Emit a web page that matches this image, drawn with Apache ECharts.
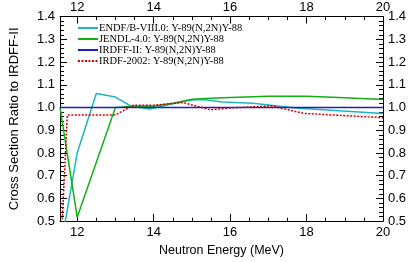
<!DOCTYPE html>
<html>
<head>
<meta charset="utf-8">
<script src="https://cdn.jsdelivr.net/npm/echarts@6/dist/echarts.min.js"></script>
<style>html,body{margin:0;padding:0;background:#fff}#c{width:415px;height:262px}</style>
</head>
<body>
<div id="c"></div>
<script>
// ---- data ----
var seriesNames = ['ENDF/B-VIII.0: Y-89(N,2N)Y-88', 'JENDL-4.0: Y-89(N,2N)Y-88', 'IRDFF-II: Y-89(N,2N)Y-88', 'IRDF-2002: Y-89(N,2N)Y-88'];
var endfX = [11.55, 12.0, 12.5, 13.0, 13.4, 13.9, 14.5, 15.0, 15.3, 15.8, 16.6, 17.7, 20.0];
var endfY = [0.364, 0.80, 1.062, 1.046, 1.007, 0.993, 1.016, 1.033, 1.035, 1.024, 1.019, 0.998, 0.974];
var jendlX = [11.55, 11.6, 12.0, 13.0, 13.5, 14.0, 14.5, 15.0, 15.5, 16.0, 17.0, 18.0, 19.0, 20.0];
var jendlY = [1.0, 1.0, 0.517, 1.0, 1.005, 1.005, 1.019, 1.036, 1.041, 1.044, 1.049, 1.05, 1.043, 1.035];
var irdffX = [11.55, 20.0];
var irdffY = [1.0, 1.0];
var irdfX = [11.58, 11.74, 13.0, 13.47, 14.0, 14.76, 15.48, 16.0, 17.08, 17.93, 20.0];
var irdfY = [0.40, 0.967, 0.967, 1.01, 1.01, 1.022, 0.99, 0.998, 1.007, 0.974, 0.955];
var xMajorTicks = [12, 14, 16, 18, 20];
var xMinorTicks = [12.5, 13, 13.5, 14.5, 15, 15.5, 16.5, 17, 17.5, 18.5, 19, 19.5];
var xTitle = 'Neutron Energy (MeV)';
var yTitle = 'Cross Section Ratio to IRDFF-II';

function pairs(xs, ys) { return xs.map(function (x, i) { return [x, ys[i]]; }); }

var XMIN = 11.55, XMAX = 20, YMIN = 0.5, YMAX = 1.4;
var lblFont = {fontFamily: 'Liberation Sans', fontSize: 13, color: '#000'};
function xAx(pos, major, labels, extra) {
  var a = {
    type: 'value', position: pos, min: XMIN, max: XMAX,
    axisLine: {show: major, onZero: false, lineStyle: {color: '#000', width: 1}},
    axisTick: {show: true, inside: true, length: major ? 7 : 3.5, customValues: major ? xMajorTicks : xMinorTicks, lineStyle: {color: '#000', width: 1}},
    axisLabel: labels ? Object.assign({show: true, customValues: xMajorTicks, margin: pos === 'top' ? 3 : 5}, lblFont) : {show: false},
    splitLine: {show: false}
  };
  return Object.assign(a, extra || {});
}
function yAx(pos, extra) {
  var a = {
    type: 'value', position: pos, min: YMIN, max: YMAX, interval: 0.1,
    axisLine: {show: true, onZero: false, lineStyle: {color: '#000', width: 1}},
    axisTick: {show: true, inside: true, length: 7, lineStyle: {color: '#000', width: 1}},
    minorTick: {show: true, splitNumber: 5, length: 4, lineStyle: {color: '#000', width: 1}},
    axisLabel: Object.assign({show: true, margin: 5, formatter: function (v) { return v.toFixed(1); }}, lblFont),
    splitLine: {show: false}, minorSplitLine: {show: false}
  };
  return Object.assign(a, extra || {});
}

var colors = ['#1fb5c0', '#12b012', '#1c1cc8', '#cc0000'];
var chart = echarts.init(document.getElementById('c'), null, {renderer: 'canvas'});
chart.setOption({
  animation: false,
  backgroundColor: '#fff',
  grid: {left: 56, right: 32, top: 16.6, bottom: 37.5, containLabel: false},
  xAxis: [
    xAx('bottom', true, true, {name: xTitle, nameLocation: 'middle', nameGap: 21, nameTextStyle: {fontFamily: 'Liberation Sans', fontSize: 12.5, color: '#000'}}),
    xAx('bottom', false, false),
    xAx('top', true, true),
    xAx('top', false, false)
  ],
  yAxis: [
    yAx('left', {name: yTitle, nameLocation: 'middle', nameGap: 39, nameTextStyle: {fontFamily: 'Liberation Sans', fontSize: 13, color: '#000'}}),
    yAx('right')
  ],
  legend: {
    orient: 'vertical', left: 72, top: 17.5,
    itemWidth: 20, itemHeight: 10.7, itemGap: 0,
    itemStyle: {opacity: 0},
    textStyle: {fontFamily: 'Liberation Serif', fontSize: 10.5, color: '#000', lineHeight: 10.7, padding: [0, 0, 0, -4]},
    data: seriesNames
  },
  series: [
    {name: seriesNames[0], type: 'line', symbol: 'none', data: pairs(endfX, endfY), lineStyle: {color: colors[0], width: 1.5}, itemStyle: {color: colors[0]}, clip: true},
    {name: seriesNames[1], type: 'line', symbol: 'none', data: pairs(jendlX, jendlY), lineStyle: {color: colors[1], width: 1.5}, itemStyle: {color: colors[1]}, clip: true},
    {name: seriesNames[2], type: 'line', symbol: 'none', data: pairs(irdffX, irdffY), lineStyle: {color: colors[2], width: 1.5}, itemStyle: {color: colors[2]}, clip: true},
    {name: seriesNames[3], type: 'line', symbol: 'none', data: pairs(irdfX, irdfY), lineStyle: {color: colors[3], width: 1.5, type: [2, 1.5]}, itemStyle: {color: colors[3]}, clip: true}
  ]
});
</script>
</body>
</html>
